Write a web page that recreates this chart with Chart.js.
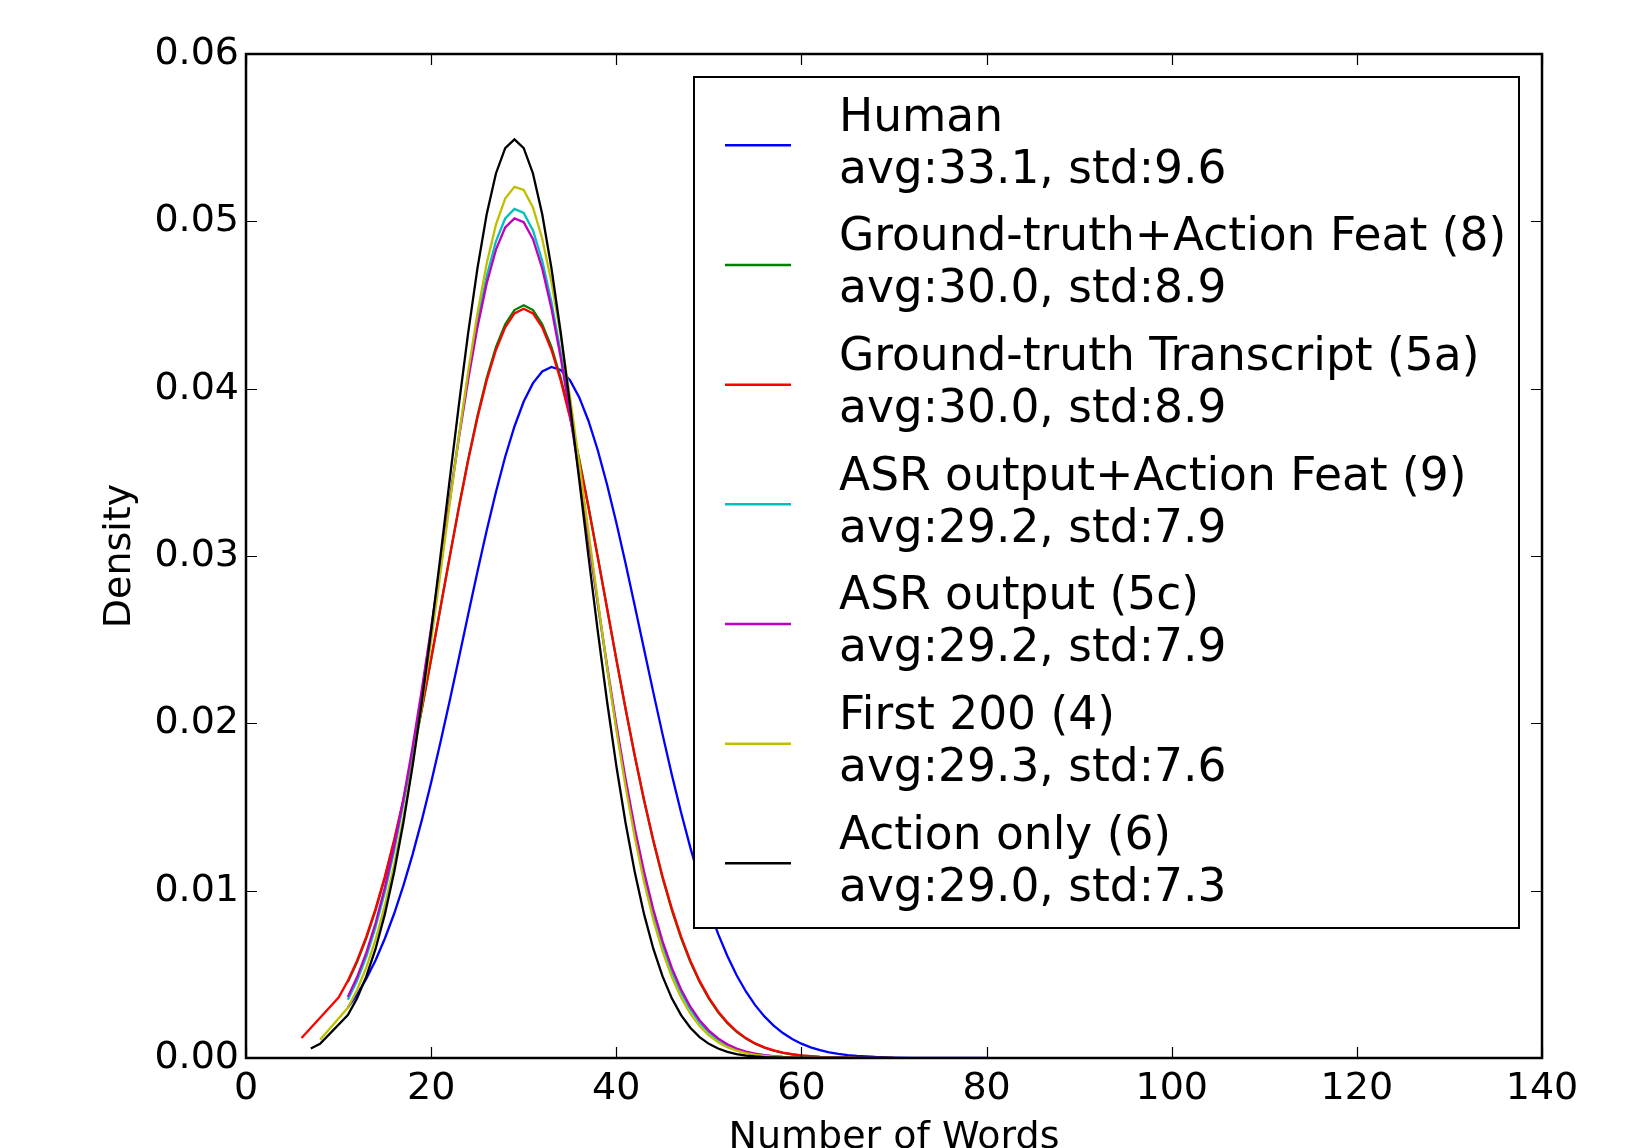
<!DOCTYPE html>
<html>
<head>
<meta charset="utf-8">
<script src="https://cdn.jsdelivr.net/npm/chart.js@4/dist/chart.umd.min.js"></script>
<style>
  html, body { margin: 0; padding: 0; background: #fff; }
  canvas { display: block; }
</style>
</head>
<body>
<canvas id="c" width="1640" height="1148"></canvas>
<script>
// ---------- data ----------
const seriesNames = ["Human", "Ground-truth+Action Feat (8)", "Ground-truth Transcript (5a)",
  "ASR output+Action Feat (9)", "ASR output (5c)", "First 200 (4)", "Action only (6)"];
const seriesStats = ["avg:33.1, std:9.6", "avg:30.0, std:8.9", "avg:30.0, std:8.9",
  "avg:29.2, std:7.9", "avg:29.2, std:7.9", "avg:29.3, std:7.6", "avg:29.0, std:7.3"];
const seriesColors = ["#0000ff", "#008000", "#ff0000", "#00bfbf", "#bf00bf", "#bfbf00", "#000000"];

const xTicks = [0, 20, 40, 60, 80, 100, 120, 140];
const yTicks = [0.00, 0.01, 0.02, 0.03, 0.04, 0.05, 0.06];

const humanX = [11,12,13,14,15,16,17,18,19,20,21,22,23,24,25,26,27,28,29,30,31,32,33,34,35,36,37,38,39,40,
  41,42,43,44,45,46,47,48,49,50,51,52,53,54,55,56,57,58,59,60,61,62,63,64,65,66,68,70,72,75,80];
const humanY = [0.003016,0.003802,0.004741,0.005848,0.007141,0.00862,0.0103,0.01217,0.01423,0.01647,
  0.01885,0.02134,0.02391,0.0265,0.02906,0.03152,0.03383,0.03593,0.03774,0.03923,
  0.04033,0.04103,0.0413,0.04112,0.04051,0.03948,0.03807,0.03632,0.03427,0.032,
  0.02956,0.02701,0.02443,0.02185,0.01934,0.01693,0.01467,0.01257,0.01066,0.008941,
  0.007417,0.006092,0.004948,0.003977,0.003161,0.002486,0.001935,0.00149,0.001135,0.000855,
  0.000638,0.00047,0.000343,0.000248,0.000177,0.000125,0.0000605,0.000028,0.0000124,0.0000034,0.0000002];

const gtActX = [11,12,13,14,15,16,17,18,19,20,21,22,23,24,25,26,27,28,29,30,31,32,33,34,35,36,37,38,39,40,
  41,42,43,44,45,46,47,48,49,50,51,52,53,54,55,56,57,58,59,60,62,64,66,70];
const gtActY = [0.004538,0.00574,0.00717,0.008839,0.01076,0.01295,0.01537,0.01801,0.02085,0.02383,
  0.02688,0.02995,0.03294,0.03578,0.03837,0.04063,0.04248,0.04385,0.0447,0.04498,
  0.0447,0.04385,0.04248,0.04063,0.03837,0.03578,0.03294,0.02995,0.02688,0.02383,
  0.02085,0.01801,0.01537,0.01295,0.01076,0.008839,0.00717,0.00574,0.004538,0.003541,
  0.002728,0.002076,0.00156,0.001157,0.000847,0.000613,0.000438,0.000309,0.000215,0.000148,
  0.0000671,0.000029,0.0000119,0.000001];

const gtTransX = [6,10,11,12,13,14,15,16,17,18,19,20,21,22,23,24,25,26,27,28,29,30,31,32,33,34,35,36,37,38,39,40,
  41,42,43,44,45,46,47,48,49,50,51,52,53,54,55,56,57,58,59,60,62,64,66,70];
const gtTransY = [0.00119,0.003607,0.004608,0.005817,0.007254,0.008929,0.01085,0.01303,0.01544,0.01808,0.0209,0.02385,
  0.02689,0.02992,0.03289,0.0357,0.03826,0.04049,0.04231,0.04366,0.0445,0.04478,
  0.0445,0.04366,0.04231,0.04049,0.03826,0.0357,0.03289,0.02992,0.02689,0.02385,
  0.0209,0.01808,0.01544,0.01303,0.01085,0.008929,0.007254,0.005817,0.004608,0.003607,
  0.002785,0.002124,0.0016,0.00119,0.000874,0.000634,0.000454,0.000321,0.000224,0.000155,
  0.0000708,0.0000308,0.0000128,0.000001];

const asrActX = [11,12,13,14,15,16,17,18,19,20,21,22,23,24,25,26,27,28,29,30,31,32,33,34,35,36,37,38,39,40,
  41,42,43,44,45,46,47,48,49,50,51,52,53,54,55,56,57,58,60,65];
const asrActY = [0.003478,0.004632,0.006066,0.007827,0.009924,0.01239,0.01522,0.01839,0.02187,0.02559,
  0.02946,0.03337,0.03719,0.04079,0.044,0.04672,0.04881,0.05017,0.05074,0.0505,
  0.04945,0.04764,0.04516,0.04213,0.03866,0.03491,0.03102,0.02713,0.02333,0.01975,
  0.01645,0.01348,0.01087,0.008624,0.006731,0.005172,0.003908,0.002906,0.002126,0.001531,
  0.001085,0.000756,0.000518,0.00035,0.000232,0.000152,0.0000975,0.0000617,0.0000235,0.000002];

const asrX = [11,12,13,14,15,16,17,18,19,20,21,22,23,24,25,26,27,28,29,30,31,32,33,34,35,36,37,38,39,40,
  41,42,43,44,45,46,47,48,49,50,51,52,53,54,55,56,57,58,60,65];
const asrY = [0.003653,0.004834,0.006295,0.008067,0.01019,0.01265,0.01546,0.01861,0.02204,0.0257,
  0.02949,0.03331,0.03704,0.04053,0.04366,0.04629,0.04831,0.04963,0.05018,0.04995,
  0.04893,0.04718,0.04478,0.04184,0.03847,0.03482,0.03102,0.0272,0.02348,0.01995,
  0.01669,0.01373,0.01113,0.008875,0.006968,0.005381,0.004094,0.003064,0.002258,0.001638,
  0.001169,0.000821,0.000568,0.000387,0.000259,0.000171,0.000111,0.0000709,0.0000276,0.000003];

const first200X = [8,11,12,13,14,15,16,17,18,19,20,21,22,23,24,25,26,27,28,29,30,31,32,33,34,35,36,37,38,39,40,
  41,42,43,44,45,46,47,48,49,50,51,52,53,54,55,56,57,58,60,65];
const first200Y = [0.001091,0.003003,0.004066,0.005414,0.007086,0.009118,0.01154,0.01435,0.01755,0.0211,0.02493,
  0.02897,0.03308,0.03715,0.04101,0.0445,0.04748,0.0498,0.05136,0.05206,0.05188,
  0.05083,0.04896,0.04636,0.04316,0.0395,0.03554,0.03144,0.02734,0.02337,0.01964,
  0.01623,0.01318,0.01052,0.008261,0.006376,0.00484,0.00361,0.002646,0.001908,0.001352,
  0.000942,0.000646,0.000435,0.000288,0.000187,0.00012,0.0000753,0.0000466,0.0000169,0.000001];

const actionX = [7,8,11,12,13,14,15,16,17,18,19,20,21,22,23,24,25,26,27,28,29,30,31,32,33,34,35,36,37,38,39,40,
  41,42,43,44,45,46,47,48,49,50,51,52,53,54,55,56,57,58,60,65];
const actionY = [0.000564,0.000847,0.00256,0.003565,0.004873,0.006533,0.008597,0.011095,0.01406,0.01747,0.02132,0.02551,
  0.02996,0.03453,0.03905,0.04334,0.04719,0.05042,0.05286,0.05438,0.0549,0.05438,
  0.05286,0.05042,0.04719,0.04334,0.03905,0.03453,0.02996,0.02551,0.02132,0.01747,
  0.01406,0.011095,0.008597,0.006533,0.004873,0.003565,0.00256,0.001805,0.001247,0.000847,
  0.000564,0.000368,0.000236,0.000148,0.0000916,0.0000555,0.000033,0.0000193,0.0000062,0.0000002];

const seriesX = [humanX, gtActX, gtTransX, asrActX, asrX, first200X, actionX];
const seriesY = [humanY, gtActY, gtTransY, asrActY, asrY, first200Y, actionY];

// ---------- chart ----------
const FONT = "DejaVu Sans";
Chart.defaults.font.family = FONT;
Chart.defaults.color = "#000";

const datasets = seriesNames.map((name, i) => ({
  label: name + "\n" + seriesStats[i],
  data: seriesX[i].map((x, j) => ({ x: x, y: seriesY[i][j] })),
  borderColor: seriesColors[i],
  backgroundColor: seriesColors[i],
  borderWidth: 2.3,
  pointRadius: 0,
  tension: 0,
  fill: false,
  order: seriesNames.length - 1 - i
}));

const framePlugin = {
  id: "frameAndLegend",
  afterDatasetsDraw(chart) {
    const { ctx, chartArea: a, scales } = chart;
    const xs = scales.x, ys = scales.y;
    ctx.save();
    // inward ticks on all four sides
    ctx.strokeStyle = "#000";
    ctx.lineWidth = 1.2;
    const T = 11;
    xs.ticks.forEach(t => {
      const px = Math.round(xs.getPixelForValue(t.value)) + 0.5;
      ctx.beginPath();
      ctx.moveTo(px, a.bottom); ctx.lineTo(px, a.bottom - T);
      ctx.moveTo(px, a.top); ctx.lineTo(px, a.top + T);
      ctx.stroke();
    });
    ys.ticks.forEach(t => {
      const py = Math.round(ys.getPixelForValue(t.value)) + 0.5;
      ctx.beginPath();
      ctx.moveTo(a.left, py); ctx.lineTo(a.left + T, py);
      ctx.moveTo(a.right, py); ctx.lineTo(a.right - T, py);
      ctx.stroke();
    });
    // frame
    ctx.lineWidth = 2.5;
    ctx.strokeRect(a.left, a.top, a.right - a.left, a.bottom - a.top);

    // legend
    const L = 694, Tp = 77, R = 1519, B = 928;
    ctx.fillStyle = "#fff";
    ctx.fillRect(L, Tp, R - L, B - Tp);
    ctx.lineWidth = 2;
    ctx.strokeStyle = "#000";
    ctx.strokeRect(L, Tp, R - L, B - Tp);
    ctx.font = "45.5px '" + FONT + "'";
    ctx.textAlign = "left";
    ctx.textBaseline = "alphabetic";
    chart.data.datasets.forEach((ds, i) => {
      const ly = 145.3 + i * 119.67;
      ctx.strokeStyle = ds.borderColor;
      ctx.lineWidth = 2.5;
      ctx.beginPath();
      ctx.moveTo(725, ly); ctx.lineTo(791, ly);
      ctx.stroke();
      const lines = ds.label.split("\n");
      ctx.fillStyle = "#000";
      ctx.fillText(lines[0], 839, ly - 14.6);
      ctx.fillText(lines[1], 839, ly + 37.4);
    });
    ctx.restore();
  }
};

new Chart(document.getElementById("c"), {
  type: "line",
  data: { datasets: datasets },
  options: {
    responsive: false,
    devicePixelRatio: 1,
    animation: false,
    events: [],
    layout: { padding: { left: 0, top: 54, right: 98, bottom: 0 } },
    plugins: { legend: { display: false }, tooltip: { enabled: false }, title: { display: false } },
    scales: {
      x: {
        type: "linear",
        min: 0, max: 140,
        afterBuildTicks: s => { s.ticks = xTicks.map(v => ({ value: v })); },
        afterFit: s => { s.height = 90; },
        grid: { display: false, drawTicks: false, tickLength: 0 },
        border: { display: false },
        ticks: {
          autoSkip: false, maxRotation: 0, minRotation: 0, padding: 8,
          font: { size: 38, family: FONT }, color: "#000",
          callback: v => String(v)
        },
        title: {
          display: true, text: "Number of Words", color: "#000",
          font: { size: 38, family: FONT, lineHeight: 0.5 },
          padding: { top: 0, bottom: 0 }
        }
      },
      y: {
        type: "linear",
        min: 0, max: 0.06,
        afterBuildTicks: s => { s.ticks = yTicks.map(v => ({ value: v })); },
        afterFit: s => { s.width = 246; },
        grid: { display: false, drawTicks: false, tickLength: 0 },
        border: { display: false },
        ticks: {
          autoSkip: false, padding: 7,
          font: { size: 38, family: FONT }, color: "#000",
          callback: v => Number(v).toFixed(2)
        },
        title: {
          display: true, text: "Density", color: "#000",
          font: { size: 38, family: FONT },
          padding: { top: 97, bottom: 0 }
        }
      }
    }
  },
  plugins: [framePlugin]
});
</script>
</body>
</html>
